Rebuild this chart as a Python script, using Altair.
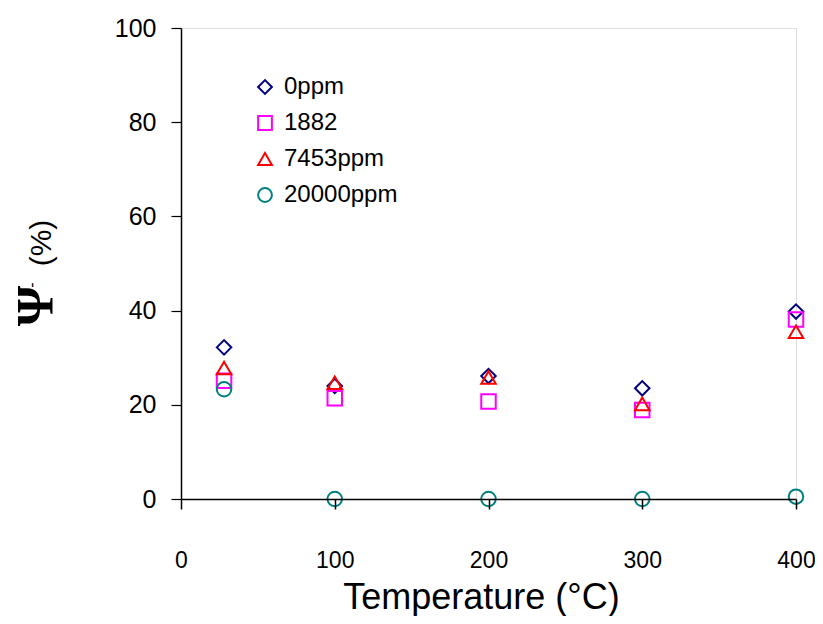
import altair as alt
import pandas as pd

temps = [28, 100, 200, 300, 400]
series_names = ["0ppm", "1882", "7453ppm", "20000ppm"]
psi_0ppm = [32.2, 24.0, 26.1, 23.5, 39.8]
psi_1882 = [25.1, 21.4, 20.7, 18.9, 38.1]
psi_7453 = [27.8, 24.7, 25.8, 20.2, 35.5]
psi_20000 = [23.3, 0.0, 0.0, 0.0, 0.5]

colors = ["#000080", "#FF00FF", "#FF0000", "#008080"]
shapes = ["diamond", "square", "triangle-up", "circle"]

rows = []
for name, vals in zip(series_names, [psi_0ppm, psi_1882, psi_7453, psi_20000]):
    for t, v in zip(temps, vals):
        rows.append({"Temperature": t, "Psi": v, "Series": name})
df = pd.DataFrame(rows)

FONT = "Liberation Sans"

points = alt.Chart(df).mark_point(filled=False, size=210, strokeWidth=2, opacity=1).encode(
    x=alt.X("Temperature:Q",
            scale=alt.Scale(domain=[0, 400], nice=False, zero=False),
            axis=alt.Axis(values=[0, 100, 200, 300, 400], tickSize=10, labelPadding=40,
                          labelFontSize=23, labelFont=FONT, labelColor="black",
                          labelFlush=False, labelOverlap=False,
                          title="Temperature (°C)", titleFontSize=36, titleFont=FONT,
                          titleFontWeight="normal", titleColor="black", titlePadding=8,
                          titleX=300,
                          domainColor="black", domainWidth=1.5, tickColor="black",
                          tickWidth=1.5, grid=False, zindex=1)),
    y=alt.Y("Psi:Q",
            scale=alt.Scale(domain=[0, 100], nice=False),
            axis=alt.Axis(values=[0, 20, 40, 60, 80, 100], tickSize=10, labelPadding=15,
                          labelFontSize=25, labelFont=FONT, labelColor="black",
                          labelFlush=False, labelOverlap=False,
                          title=None, domainColor="black", domainWidth=1.5,
                          tickColor="black", tickWidth=1.2, grid=False, zindex=1)),
    color=alt.Color("Series:N", sort=series_names,
                    scale=alt.Scale(domain=series_names, range=colors),
                    legend=alt.Legend(title=None, orient="none", legendX=72, legendY=47,
                                      labelFontSize=24, labelFont=FONT, labelColor="black",
                                      symbolSize=190, symbolStrokeWidth=2, rowPadding=12,
                                      labelOffset=7, symbolFillColor="transparent")),
    shape=alt.Shape("Series:N", sort=series_names,
                    scale=alt.Scale(domain=series_names, range=shapes),
                    legend=None),
)

one = alt.Data(values=[{"k": 1}])
psi_text = alt.Chart(one).mark_text(
    text="Ψ", angle=270, font="Liberation Serif", fontSize=52, fontWeight="bold",
    align="center", baseline="middle", color="black"
).encode(x=alt.value(-144), y=alt.value(278))

prime_text = alt.Chart(one).mark_text(
    text="-", angle=270, font=FONT, fontSize=16,
    align="center", baseline="middle", color="black"
).encode(x=alt.value(-149), y=alt.value(257))

pct_text = alt.Chart(one).mark_text(
    text="(%)", angle=270, font=FONT, fontSize=30,
    align="center", baseline="middle", color="black"
).encode(x=alt.value(-139), y=alt.value(215))

chart = alt.layer(points, psi_text, prime_text, pct_text).properties(
    width=615, height=471,
    autosize=alt.AutoSizeParams(type="none"),
    padding={"left": 173, "top": 20, "right": 19, "bottom": 117},
).configure_view(stroke="#8c8c8c", strokeWidth=2).configure(background="white")

chart.save("out.html", embed_options={"renderer": "svg", "actions": False})
